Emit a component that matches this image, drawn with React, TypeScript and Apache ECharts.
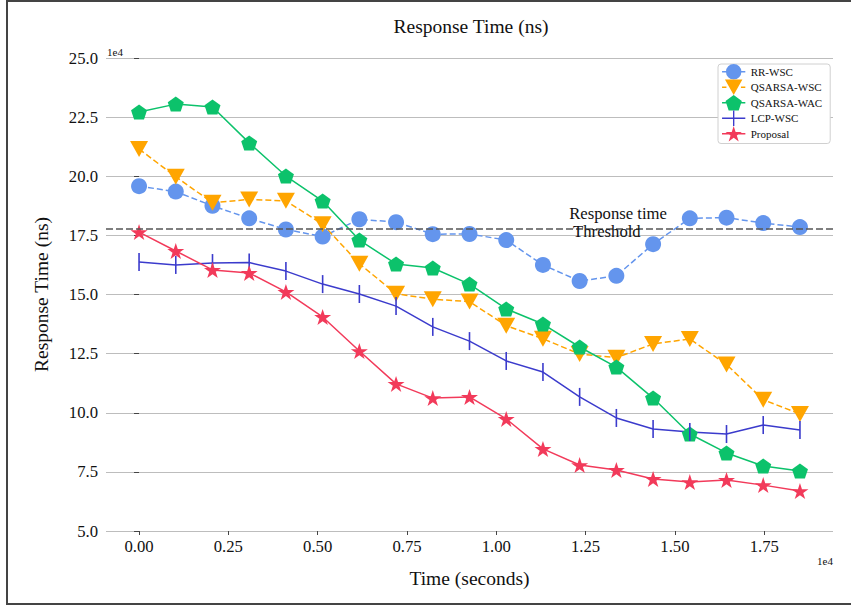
import React, { useEffect, useRef } from 'react';
import * as echarts from 'echarts';

const FONT = '"Liberation Serif", "Times New Roman", Times, serif';

const xValues = [0, 1028, 2056, 3083, 4111, 5139, 6167, 7194, 8222, 9250, 10278, 11306, 12333, 13361, 14389, 15417, 16444, 17472, 18500];
const xTicks = [0, 2500, 5000, 7500, 10000, 12500, 15000, 17500];

const rrWsc = [195800, 193500, 187500, 182200, 177500, 174500, 181800, 180600, 175500, 175600, 173000, 162500, 155700, 157900, 171300, 182200, 182500, 180200, 178500];
const qsarsaWsc = [211500, 199800, 188800, 190200, 189600, 179700, 163000, 150300, 148000, 147000, 136800, 131300, 124800, 123300, 129100, 131200, 120400, 105500, 99500];
const qsarsaWac = [227200, 230500, 229300, 214100, 200100, 189500, 173000, 162900, 161200, 154400, 143900, 137500, 127800, 119300, 106200, 91000, 83000, 77500, 75400];
const lcpWsc = [163700, 162500, 163300, 163500, 159900, 154400, 150200, 145100, 136300, 130300, 121900, 117200, 106700, 97800, 93100, 91900, 91000, 94800, 92700];
const proposal = [176400, 168400, 160400, 159100, 151100, 140500, 126100, 112200, 106200, 106700, 97400, 84700, 77900, 75800, 72000, 70700, 71600, 69400, 66900];

const threshold = 178000;
const thresholdLabelAt = [12040, 180400];

const PENTAGON = 'path://M0,-1 L0.951,-0.309 L0.588,0.809 L-0.588,0.809 L-0.951,-0.309 Z';
const STAR = 'path://M0,-1 L0.2245,-0.309 L0.951,-0.309 L0.363,0.118 L0.588,0.809 L0,0.382 L-0.588,0.809 L-0.363,0.118 L-0.951,-0.309 L-0.2245,-0.309 Z';
const TRI_DOWN = 'path://M-1,-1 L1,-1 L0,1 Z';

// legend icons: line (dashed or solid) + marker, in a 24x16 box
const DASHES = 'M0,7.3 H4.5 V8.7 H0 Z M19.5,7.3 H24 V8.7 H19.5 Z';
const SOLID = 'M0,7.3 H24 V8.7 H0 Z';
const LEG_RR = `path://${DASHES} M4,8 A8,8 0 1,1 20,8 A8,8 0 1,1 4,8 Z`;
const LEG_QW = `path://${DASHES} M3,0 H21 L12,16 Z`;
const LEG_QA = `path://${SOLID} M12,0 L20.4,6.1 L17.2,16 L6.8,16 L3.6,6.1 Z`;
const LEG_LCP = `path://${SOLID} M11.3,0 H12.7 V16 H11.3 Z`;
const LEG_PR = `path://${SOLID} M12,0 L13.98,6.08 L20.37,6.08 L15.19,9.84 L17.17,15.92 L12,12.16 L6.83,15.92 L8.81,9.84 L3.63,6.08 L10.02,6.08 Z`;

const pairs = (ys: number[]) => xValues.map((x, i) => [x, ys[i]]);

export default function App() {
  const ref = useRef<HTMLDivElement>(null);
  useEffect(() => {
    const chart = echarts.init(ref.current!, null, { renderer: 'svg' });
    const option: any = {
      animation: false,
      backgroundColor: '#fff',
      textStyle: { fontFamily: FONT },
      title: {
        text: 'Response Time (ns)',
        left: 466,
        top: 11,
        textAlign: 'center',
        textStyle: { fontFamily: FONT, fontSize: 19.5, fontWeight: 'normal', color: '#111' },
      },
      grid: { left: 106, right: 18, top: 58, bottom: 77 },
      legend: {
        orient: 'vertical',
        left: 718,
        top: 64,
        backgroundColor: '#fff',
        borderColor: '#d0d0d0',
        borderWidth: 1,
        borderRadius: 3,
        padding: [0, 8, 2, 4],
        itemWidth: 24,
        itemHeight: 15.5,
        itemGap: 0,
        symbolKeepAspect: true,
        textStyle: { fontFamily: FONT, fontSize: 11, color: '#111' },
        data: [
          { name: 'RR-WSC', icon: LEG_RR },
          { name: 'QSARSA-WSC', icon: LEG_QW },
          { name: 'QSARSA-WAC', icon: LEG_QA },
          { name: 'LCP-WSC', icon: LEG_LCP },
          { name: 'Proposal', icon: LEG_PR },
        ],
      },
      xAxis: {
        type: 'value',
        min: -925,
        max: 19425,
        name: 'Time (seconds)',
        nameLocation: 'middle',
        nameGap: 37,
        nameTextStyle: { fontFamily: FONT, fontSize: 19.5, color: '#111' },
        axisLine: { show: false },
        splitLine: { show: false },
        axisTick: { show: true, length: 4, customValues: xTicks, lineStyle: { color: '#444' } },
        axisLabel: {
          customValues: xTicks,
          margin: 7,
          fontFamily: FONT,
          fontSize: 16.7,
          color: '#111',
          formatter: (v: number) => (v / 10000).toFixed(2),
        },
      },
      yAxis: {
        type: 'value',
        min: 50000,
        max: 250000,
        interval: 25000,
        name: 'Response Time (ns)',
        nameLocation: 'middle',
        nameGap: 55,
        nameTextStyle: { fontFamily: FONT, fontSize: 19.5, color: '#111' },
        axisLine: { show: false },
        axisTick: { show: true, length: 5, lineStyle: { color: '#444' } },
        splitLine: { show: true, lineStyle: { color: '#bdbdbd', width: 1 } },
        axisLabel: {
          margin: 8,
          fontFamily: FONT,
          fontSize: 16.7,
          color: '#111',
          formatter: (v: number) => (v / 10000).toFixed(1),
        },
      },
      graphic: [
        { type: 'rect', shape: { x: 7, y: 1, width: 870, height: 603 }, style: { fill: 'none', stroke: '#444', lineWidth: 2 }, silent: true },
        { type: 'text', x: 107, y: 46, style: { text: '1e4', fontFamily: FONT, fontSize: 11, fill: '#111' } },
        { type: 'text', x: 817, y: 555, style: { text: '1e4', fontFamily: FONT, fontSize: 11, fill: '#111' } },
      ],
      series: [
        {
          name: 'RR-WSC',
          type: 'line',
          data: pairs(rrWsc),
          symbol: 'circle',
          symbolSize: 16,
          lineStyle: { color: '#6495ed', width: 1.5, type: [6, 3] },
          itemStyle: { color: '#6495ed' },
          markLine: {
            silent: true,
            symbol: 'none',
            label: { show: false },
            lineStyle: { color: '#555', width: 1.5, type: [7, 3] },
            data: [{ yAxis: threshold }],
          },
          markPoint: {
            silent: true,
            data: [
              {
                coord: thresholdLabelAt,
                symbol: 'circle',
                symbolSize: 1,
                itemStyle: { color: 'rgba(0,0,0,0)' },
                label: {
                  show: true,
                  position: 'inside',
                  align: 'left',
                  formatter: 'Response time\n Threshold',
                  fontFamily: FONT,
                  fontSize: 16.7,
                  lineHeight: 18,
                  color: '#111',
                },
              },
            ],
          },
        },
        {
          name: 'QSARSA-WSC',
          type: 'line',
          data: pairs(qsarsaWsc),
          symbol: TRI_DOWN,
          symbolSize: [18, 16],
          lineStyle: { color: '#ffa500', width: 1.5, type: [6, 3] },
          itemStyle: { color: '#ffa500' },
        },
        {
          name: 'QSARSA-WAC',
          type: 'line',
          data: pairs(qsarsaWac),
          symbol: PENTAGON,
          symbolSize: [16, 15],
          lineStyle: { color: '#0cc26b', width: 1.5 },
          itemStyle: { color: '#0cc26b' },
        },
        {
          name: 'LCP-WSC',
          type: 'line',
          data: pairs(lcpWsc),
          symbol: 'rect',
          symbolSize: [1.6, 18],
          lineStyle: { color: '#3b3bcc', width: 1.5 },
          itemStyle: { color: '#3b3bcc' },
        },
        {
          name: 'Proposal',
          type: 'line',
          data: pairs(proposal),
          symbol: STAR,
          symbolSize: [17, 16],
          lineStyle: { color: '#f23a5a', width: 1.5 },
          itemStyle: { color: '#f23a5a' },
        },
      ],
    };
    chart.setOption(option);
    return () => chart.dispose();
  }, []);
  return (
    <div
      ref={ref}
      style={{ position: 'absolute', left: 0, top: 0, width: 851, height: 608, background: '#fff' }}
    />
  );
}
